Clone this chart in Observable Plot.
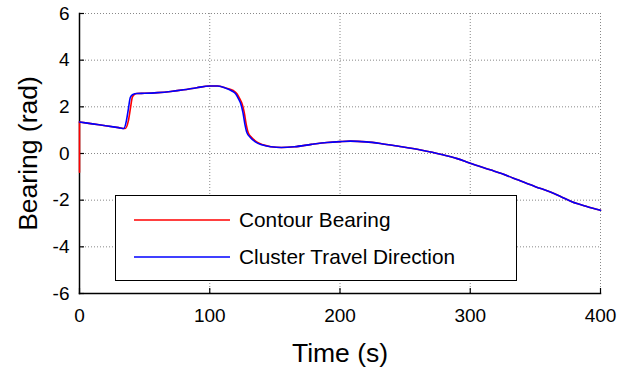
<!DOCTYPE html>
<html>
<head>
<meta charset="utf-8">
<script src="https://cdn.jsdelivr.net/npm/d3@7"></script>
<script src="https://cdn.jsdelivr.net/npm/@observablehq/plot@0.6"></script>
<style>
  html, body { margin: 0; padding: 0; background: #fff; }
  #wrap { position: relative; width: 630px; height: 373px; font-family: "Liberation Sans", Arial, Helvetica, sans-serif; }
  #legend { position: absolute; left: 115px; top: 195px; width: 400px; height: 84px; border: 1.5px solid #000; background: #fff; box-sizing: content-box; }
  .item { position: absolute; left: 0; height: 24px; display: flex; align-items: center; font-size: 20.8px; color: #000; }
  .item svg { margin-left: 18px; margin-right: 9px; }
</style>
</head>
<body>
<div id="wrap"></div>
<script>
// ---- data ----
const seriesNames = ["Contour Bearing", "Cluster Travel Direction"];
const seriesColors = ["#ff0000", "#0000ff"];

const contourT = [0, 0, 10, 20, 30, 35, 37.5, 39, 40.5, 42, 44, 50, 60, 70, 80, 90, 100, 106, 112, 118, 121, 123, 125, 126.5, 128, 129.5, 132, 136, 141, 147, 155, 165, 178, 190, 200, 208, 220, 231, 245, 262, 278, 290, 300, 316, 324, 337, 350, 362, 370, 378, 390, 400];
const contourV = [-0.8, 1.35, 1.27, 1.19, 1.11, 1.07, 1.4, 1.9, 2.4, 2.52, 2.57, 2.58, 2.61, 2.66, 2.73, 2.82, 2.89, 2.89, 2.81, 2.7, 2.55, 2.35, 2.1, 1.75, 1.25, 0.9, 0.7, 0.5, 0.37, 0.29, 0.26, 0.29, 0.39, 0.47, 0.51, 0.53, 0.5, 0.43, 0.31, 0.15, -0.04, -0.22, -0.42, -0.71, -0.86, -1.14, -1.42, -1.66, -1.86, -2.07, -2.28, -2.43];

const clusterT = [0, 10, 20, 30, 34, 36, 37.5, 39, 41, 44, 50, 60, 70, 80, 90, 100, 106, 112, 117, 120, 122, 124, 125.5, 127, 128.5, 131, 135, 140, 147, 155, 165, 178, 190, 200, 208, 220, 231, 245, 262, 278, 290, 300, 316, 324, 337, 350, 362, 370, 378, 390, 400];
const clusterV = [1.35, 1.27, 1.19, 1.11, 1.07, 1.4, 1.9, 2.4, 2.53, 2.57, 2.58, 2.61, 2.66, 2.73, 2.82, 2.89, 2.89, 2.81, 2.68, 2.55, 2.35, 2.1, 1.75, 1.25, 0.9, 0.7, 0.5, 0.37, 0.29, 0.26, 0.29, 0.39, 0.47, 0.51, 0.53, 0.5, 0.43, 0.31, 0.15, -0.04, -0.22, -0.42, -0.71, -0.86, -1.14, -1.42, -1.66, -1.86, -2.07, -2.28, -2.43];

const xTicks = [0, 100, 200, 300, 400];
const yTicks = [-6, -4, -2, 0, 2, 4, 6];
const xLabel = "Time (s)";
const yLabel = "Bearing (rad)";

const contour = contourT.map((t, i) => ({t, v: contourV[i]}));
const cluster = clusterT.map((t, i) => ({t, v: clusterV[i]}));

const W = 630, H = 373, mL = 79, mR = 30, mT = 13, mB = 80;
const tickLen = 5;
const gridStyle = {stroke: "#888", strokeOpacity: 1, strokeDasharray: "1,2", strokeWidth: 1};
const fmt = d => String(d);

const chart = Plot.plot({
  width: W,
  height: H,
  marginLeft: mL,
  marginRight: mR,
  marginTop: mT,
  marginBottom: mB,
  style: {fontFamily: "Liberation Sans, Arial, sans-serif", background: "#fff", color: "#000"},
  x: {domain: [0, 400]},
  y: {domain: [-6, 6]},
  marks: [
    Plot.gridX(xTicks.filter(d => d !== 0), gridStyle),
    Plot.gridY(yTicks.filter(d => d !== -6), gridStyle),
    Plot.axisX(xTicks, {tickSize: 0, tickPadding: 15, fontSize: 19, label: null, tickFormat: fmt}),
    Plot.axisY(yTicks, {tickSize: 0, tickPadding: 10, fontSize: 19, label: null, tickFormat: fmt}),
    // inward tick marks
    Plot.tickX(xTicks, {x: d => d, stroke: "#000", strokeWidth: 1.2, insetTop: (H - mT - mB) - tickLen}),
    Plot.tickY(yTicks, {y: d => d, stroke: "#000", strokeWidth: 1.2, insetRight: (W - mL - mR) - tickLen}),
    Plot.frame({anchor: "left", stroke: "#000", strokeWidth: 1.5}),
    Plot.frame({anchor: "bottom", stroke: "#000", strokeWidth: 1.5}),
    Plot.line(contour.slice(0, 2), {x: "t", y: "v", stroke: seriesColors[0], strokeWidth: 1.6}),
    Plot.line(contour.slice(1), {x: "t", y: "v", stroke: seriesColors[0], strokeWidth: 1.6, curve: "monotone-x"}),
    Plot.line(cluster, {x: "t", y: "v", stroke: seriesColors[1], strokeWidth: 1.6, curve: "monotone-x"}),
    Plot.text([xLabel], {frameAnchor: "bottom", lineAnchor: "middle", textAnchor: "middle", dy: 60, fontSize: 26.5, fill: "#000"}),
    Plot.text([yLabel], {frameAnchor: "left", lineAnchor: "middle", textAnchor: "middle", dx: -51, rotate: -90, fontSize: 26.5, fill: "#000"})
  ]
});

const wrap = document.getElementById("wrap");
wrap.appendChild(chart);

// legend overlay
const legend = document.createElement("div");
legend.id = "legend";
seriesNames.forEach((name, i) => {
  const item = document.createElement("div");
  item.className = "item";
  item.style.top = (12 + i * 37) + "px";
  item.innerHTML = `<svg width="96" height="4"><line x1="0" x2="96" y1="2" y2="2" stroke="${seriesColors[i]}" stroke-width="1.6"/></svg><span>${name}</span>`;
  legend.appendChild(item);
});
wrap.appendChild(legend);
</script>
</body>
</html>
